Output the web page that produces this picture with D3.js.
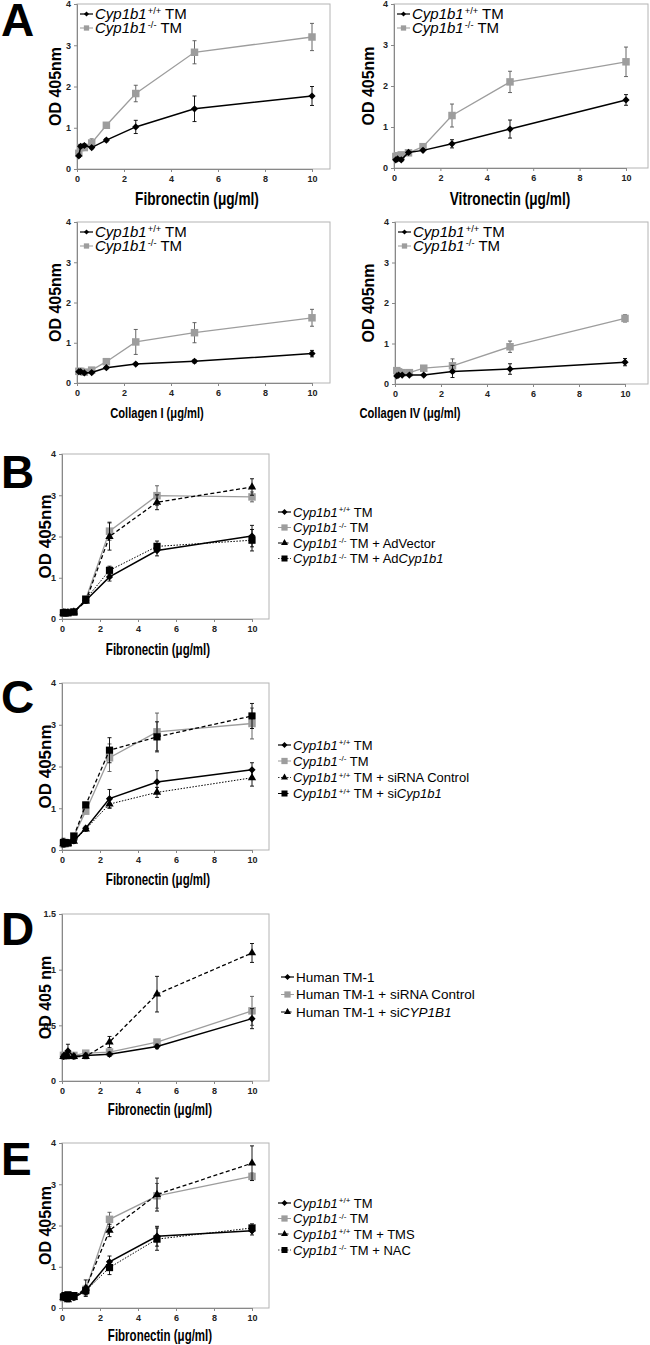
<!DOCTYPE html>
<html>
<head>
<meta charset="utf-8">
<script src="https://cdn.jsdelivr.net/npm/d3@7"></script>
<style>
  body { margin: 0; background: #fff; }
  svg { display: block; font-family: "Liberation Sans", Arial, sans-serif; }
</style>
</head>
<body>
<svg id="fig" width="650" height="1345"></svg>
<script>
// coating concentrations (ug/ml), shared by every panel
var conc = [0.078, 0.156, 0.3125, 0.625, 1.25, 2.5, 5, 10];
var xTicks = [0, 2, 4, 6, 8, 10];
var yTicks4 = [0, 1, 2, 3, 4];
var yTicksD = [0, 0.5, 1, 1.5];

// A - fibronectin
var fnWt = [0.32, 0.55, 0.57, 0.52, 0.70, 1.02, 1.46, 1.77];
var fnWtErr = [0.04, 0.04, 0.04, 0.03, 0.04, 0.16, 0.31, 0.23];
var fnKo = [0.38, 0.52, 0.52, 0.63, 1.06, 1.83, 2.83, 3.20];
var fnKoErr = [0.05, 0.04, 0.04, 0.10, 0.04, 0.20, 0.28, 0.33];
// A - vitronectin
var vnWt = [0.20, 0.22, 0.20, 0.38, 0.43, 0.59, 0.95, 1.66];
var vnWtErr = [0.03, 0.03, 0.04, 0.03, 0.03, 0.10, 0.22, 0.13];
var vnKo = [0.28, 0.30, 0.32, 0.37, 0.52, 1.28, 2.10, 2.59];
var vnKoErr = [0.03, 0.03, 0.03, 0.04, 0.04, 0.28, 0.26, 0.36];
// A - collagen I
var c1Wt = [0.28, 0.28, 0.25, 0.26, 0.38, 0.47, 0.54, 0.73];
var c1WtErr = [0.02, 0.02, 0.03, 0.03, 0.03, 0.03, 0.04, 0.08];
var c1Ko = [0.29, 0.29, 0.27, 0.32, 0.53, 1.02, 1.25, 1.62];
var c1KoErr = [0.03, 0.03, 0.03, 0.03, 0.04, 0.31, 0.25, 0.21];
// A - collagen IV
var c4Wt = [0.20, 0.22, 0.22, 0.22, 0.22, 0.31, 0.37, 0.54];
var c4WtErr = [0.02, 0.02, 0.02, 0.02, 0.02, 0.15, 0.13, 0.09];
var c4Ko = [0.33, 0.30, 0.28, 0.28, 0.39, 0.45, 0.92, 1.62];
var c4KoErr = [0.03, 0.03, 0.03, 0.03, 0.03, 0.17, 0.14, 0.09];
// B
var bWt = [0.15, 0.15, 0.15, 0.17, 0.45, 1.02, 1.66, 2.01];
var bWtErr = [0.01, 0.01, 0.01, 0.02, 0.05, 0.10, 0.13, 0.26];
var bKo = [0.15, 0.15, 0.16, 0.17, 0.48, 2.13, 2.99, 2.96];
var bKoErr = [0.01, 0.01, 0.01, 0.02, 0.05, 0.22, 0.24, 0.12];
var bVec = [0.15, 0.15, 0.15, 0.17, 0.43, 2.00, 2.83, 3.20];
var bVecErr = [0.01, 0.01, 0.01, 0.02, 0.05, 0.33, 0.18, 0.20];
var bCyp = [0.15, 0.15, 0.15, 0.17, 0.48, 1.18, 1.76, 1.91];
var bCypErr = [0.01, 0.01, 0.01, 0.02, 0.05, 0.10, 0.13, 0.26];
// C
var cWt = [0.15, 0.16, 0.17, 0.22, 0.52, 1.23, 1.63, 1.92];
var cWtErr = [0.08, 0.05, 0.04, 0.05, 0.05, 0.22, 0.27, 0.17];
var cKo = [0.15, 0.15, 0.17, 0.34, 0.93, 2.21, 2.83, 3.03];
var cKoErr = [0.05, 0.04, 0.04, 0.05, 0.06, 0.33, 0.45, 0.37];
var cCtl = [0.15, 0.15, 0.16, 0.21, 0.50, 1.10, 1.38, 1.73];
var cCtlErr = [0.05, 0.04, 0.04, 0.05, 0.05, 0.10, 0.12, 0.20];
var cSi = [0.18, 0.17, 0.17, 0.33, 1.08, 2.39, 2.71, 3.21];
var cSiErr = [0.10, 0.05, 0.04, 0.06, 0.06, 0.30, 0.36, 0.30];
// D
var dWt = [0.22, 0.23, 0.27, 0.22, 0.23, 0.24, 0.31, 0.56];
var dWtErr = [0.02, 0.02, 0.06, 0.02, 0.02, 0.02, 0.02, 0.09];
var dCtl = [0.23, 0.23, 0.23, 0.23, 0.25, 0.26, 0.35, 0.63];
var dCtlErr = [0.02, 0.02, 0.02, 0.02, 0.02, 0.02, 0.02, 0.13];
var dSi = [0.22, 0.22, 0.22, 0.22, 0.22, 0.35, 0.78, 1.15];
var dSiErr = [0.02, 0.02, 0.02, 0.02, 0.02, 0.05, 0.16, 0.085];
// E
var eWt = [0.25, 0.25, 0.30, 0.25, 0.42, 1.12, 1.74, 1.87];
var eWtErr = [0.05, 0.05, 0.05, 0.05, 0.10, 0.14, 0.24, 0.10];
var eKo = [0.25, 0.28, 0.30, 0.28, 0.45, 2.15, 2.72, 3.19];
var eKoErr = [0.05, 0.05, 0.05, 0.05, 0.10, 0.17, 0.30, 0.08];
var eTms = [0.25, 0.25, 0.20, 0.25, 0.48, 1.88, 2.75, 3.51];
var eTmsErr = [0.05, 0.05, 0.05, 0.05, 0.20, 0.15, 0.40, 0.42];
var eNac = [0.27, 0.30, 0.32, 0.30, 0.42, 0.98, 1.67, 1.94];
var eNacErr = [0.05, 0.05, 0.05, 0.05, 0.10, 0.17, 0.27, 0.10];

// legend labels (<i> italic, <sup> superscript)
var lblWt = "<i>Cyp1b1</i><sup>+/+</sup> TM";
var lblKo = "<i>Cyp1b1</i><sup>-/-</sup> TM";

// series looks
var look = {
  wt:  { color: "#000", err: "#000", shape: "diamond", size: 26, width: 1.5, dash: null },
  ko:  { color: "#9d9d9d", err: "#555", shape: "square", size: 56, width: 1.3, dash: null },
  triDash: { color: "#000", err: "#000", shape: "triangle", size: 30, width: 1.3, dash: "4,2.5" },
  triDot:  { color: "#000", err: "#000", shape: "triangle", size: 30, width: 1, dash: "1.5,1.5" },
  sqDot:   { color: "#000", err: "#000", shape: "square", size: 52, width: 1, dash: "1.5,1.5" },
  sqDash:  { color: "#000", err: "#000", shape: "square", size: 52, width: 1.3, dash: "4,2.5" }
};

var panels = [
  { left: 77, x10: 312, right: 330, top: 4, bottom: 169, yMax: 4, yTicks: yTicks4,
    yLab: "OD 405nm", yLabX: 55, yLabSize: 16, xLab: "Fibronectin (\u03bcg/ml)", xLabX: 197, xLabY: 205, xLabSize: 19,
    legIn: true, legSize: 15,
    series: [[fnKo, fnKoErr, "ko", lblKo], [fnWt, fnWtErr, "wt", lblWt]] },
  { left: 394, x10: 626, right: 648, top: 4, bottom: 168, yMax: 4, yTicks: yTicks4,
    yLab: "OD 405nm", yLabX: 368, yLabSize: 16, xLab: "Vitronectin (\u03bcg/ml)", xLabX: 510, xLabY: 205, xLabSize: 19,
    legIn: true, legSize: 15,
    series: [[vnKo, vnKoErr, "ko", lblKo], [vnWt, vnWtErr, "wt", lblWt]] },
  { left: 77, x10: 312, right: 330, top: 222, bottom: 383, yMax: 4, yTicks: yTicks4,
    yLab: "OD 405nm", yLabX: 55, yLabSize: 16, xLab: "Collagen I (\u03bcg/ml)", xLabX: 157, xLabY: 418, xLabSize: 15.5,
    legIn: true, legSize: 15,
    series: [[c1Ko, c1KoErr, "ko", lblKo], [c1Wt, c1WtErr, "wt", lblWt]] },
  { left: 395, x10: 625, right: 648, top: 222, bottom: 384, yMax: 4, yTicks: yTicks4,
    yLab: "OD 405nm", yLabX: 368, yLabSize: 16, xLab: "Collagen IV (\u03bcg/ml)", xLabX: 410, xLabY: 418, xLabSize: 15.5,
    legIn: true, legSize: 15,
    series: [[c4Ko, c4KoErr, "ko", lblKo], [c4Wt, c4WtErr, "wt", lblWt]] },
  { letter: "B", letterY: 488, left: 62, x10: 252, right: 269, top: 454, bottom: 619, yMax: 4, yTicks: yTicks4,
    yLab: "OD 405nm", yLabX: 45, yLabSize: 17, xLab: "Fibronectin (\u03bcg/ml)", xLabX: 158, xLabY: 655, xLabSize: 16,
    legX: 278, legRows: [512, 527.5, 543, 558.5], legSize: 13,
    series: [[bKo, bKoErr, "ko", lblKo], [bWt, bWtErr, "wt", lblWt],
             [bVec, bVecErr, "triDash", "<i>Cyp1b1</i><sup>-/-</sup> TM + AdVector"],
             [bCyp, bCypErr, "sqDot", "<i>Cyp1b1</i><sup>-/-</sup> TM + Ad<i>Cyp1b1</i>"]],
    legOrder: [1, 0, 2, 3] },
  { letter: "C", letterY: 713, left: 62, x10: 252, right: 269, top: 683, bottom: 850, yMax: 4, yTicks: yTicks4,
    yLab: "OD 405nm", yLabX: 45, yLabSize: 17, xLab: "Fibronectin (\u03bcg/ml)", xLabX: 158, xLabY: 885, xLabSize: 16,
    legX: 278, legRows: [745, 761, 777.5, 793.5], legSize: 13,
    series: [[cKo, cKoErr, "ko", lblKo], [cWt, cWtErr, "wt", lblWt],
             [cCtl, cCtlErr, "triDot", "<i>Cyp1b1</i><sup>+/+</sup> TM + siRNA Control"],
             [cSi, cSiErr, "sqDash", "<i>Cyp1b1</i><sup>+/+</sup> TM + si<i>Cyp1b1</i>"]],
    legOrder: [1, 0, 2, 3] },
  { letter: "D", letterY: 945, left: 62, x10: 252, right: 269, top: 914, bottom: 1081, yMax: 1.5, yTicks: yTicksD,
    yLab: "OD 405 nm", yLabX: 45, yLabSize: 16, xLab: "Fibronectin (\u03bcg/ml)", xLabX: 160, xLabY: 1115, xLabSize: 16,
    legX: 281, legRows: [977, 994.5, 1012], legSize: 13.5,
    series: [[dCtl, dCtlErr, "ko", "Human TM-1 + siRNA Control"], [dWt, dWtErr, "wt", "Human TM-1"],
             [dSi, dSiErr, "triDash", "Human TM-1 + si<i>CYP1B1</i>"]],
    legOrder: [1, 0, 2] },
  { letter: "E", letterY: 1175, left: 62, x10: 252, right: 269, top: 1143, bottom: 1308, yMax: 4, yTicks: yTicks4,
    yLab: "OD 405nm", yLabX: 45, yLabSize: 16, xLab: "Fibronectin (\u03bcg/ml)", xLabX: 160, xLabY: 1341, xLabSize: 16,
    legX: 278, legRows: [1203, 1218.5, 1234, 1250], legSize: 13,
    series: [[eKo, eKoErr, "ko", lblKo], [eWt, eWtErr, "wt", lblWt],
             [eTms, eTmsErr, "triDash", "<i>Cyp1b1</i><sup>+/+</sup> TM + TMS"],
             [eNac, eNacErr, "sqDot", "<i>Cyp1b1</i><sup>-/-</sup> TM + NAC"]],
    legOrder: [1, 0, 2, 3] }
];

var svg = d3.select("#fig");

// big panel letter A
svg.append("text").attr("x", 1).attr("y", 36)
  .style("font-size", "46px").style("font-weight", "bold").text("A");

function symbolPath(shape, size) {
  var t = shape === "triangle" ? d3.symbolTriangle : d3.symbolSquare;
  return d3.symbol().type(t).size(size)();
}

// writes "<i>..</i><sup>..</sup>" strings as tspans
function richText(sel, str, fs) {
  var parts = str.split(/(<i>.*?<\/i>|<sup>.*?<\/sup>)/).filter(function(s) { return s.length; });
  var sup = false;
  parts.forEach(function(p) {
    var ts = sel.append("tspan");
    if (p.indexOf("<i>") === 0) {
      ts.style("font-style", "italic").text(p.replace(/<\/?i>/g, ""));
      if (sup) { ts.attr("dy", fs * 0.35); sup = false; }
    } else if (p.indexOf("<sup>") === 0) {
      ts.attr("dy", -fs * 0.35).attr("dx", 1).style("font-size", (fs * 0.62) + "px").text(p.replace(/<\/?sup>/g, ""));
      sup = true;
    } else {
      ts.text(p);
      if (sup) { ts.attr("dy", fs * 0.35); sup = false; }
    }
  });
}

function drawMarker(g, cx, cy, lk, scale) {
  var m = g.append("path").attr("d", symbolPath(lk.shape, lk.size * (scale || 1)))
    .attr("fill", lk.color).attr("stroke", "none");
  var rot = lk.shape === "diamond" ? " rotate(45)" : "";
  m.attr("transform", "translate(" + cx + "," + cy + ")" + rot);
}

panels.forEach(function(p) {
  var x = d3.scaleLinear().domain([0, 10]).range([p.left, p.x10]);
  var y = d3.scaleLinear().domain([0, p.yMax]).range([p.bottom, p.top]);
  var g = svg.append("g");

  if (p.letter) {
    g.append("text").attr("x", 1).attr("y", p.letterY)
      .style("font-size", "46px").style("font-weight", "bold").text(p.letter);
  }

  // plot frame
  g.append("rect").attr("x", p.left).attr("y", p.top)
    .attr("width", p.right - p.left).attr("height", p.bottom - p.top)
    .attr("fill", "none").attr("stroke", "#b4b4b4").attr("stroke-width", 1);

  var yAxis = g.append("g").attr("transform", "translate(" + p.left + ",0)")
    .call(d3.axisLeft(y).tickValues(p.yTicks).tickSize(3).tickPadding(3).tickFormat(d3.format("")));
  var xAxis = g.append("g").attr("transform", "translate(0," + p.bottom + ")")
    .call(d3.axisBottom(x).tickValues(xTicks).tickSize(3).tickPadding(4).tickFormat(d3.format("")));
  [yAxis, xAxis].forEach(function(a) {
    a.select(".domain").attr("stroke", "#888");
    a.selectAll(".tick line").attr("stroke", "#888");
    a.selectAll(".tick text").attr("fill", "#222")
      .style("font-size", "9px").style("font-weight", "bold")
      .style("font-family", "'Liberation Sans', Arial, sans-serif");
  });

  // axis titles
  g.append("text").attr("transform", "translate(" + p.yLabX + "," + ((p.top + p.bottom) / 2) + ") rotate(-90)")
    .attr("text-anchor", "middle").attr("dy", "0.35em")
    .style("font-size", p.yLabSize + "px").style("font-weight", "bold").text(p.yLab);
  // condensed bold title (squeezed horizontally, no narrow font installed)
  g.append("text").attr("transform", "translate(" + p.xLabX + "," + p.xLabY + ") scale(0.72,1)")
    .attr("text-anchor", "middle")
    .style("font-size", p.xLabSize + "px").style("font-weight", "bold").text(p.xLab);

  // series
  p.series.forEach(function(s) {
    var vals = s[0], errs = s[1], lk = look[s[2]];
    var pts = conc.map(function(c, i) { return { x: c, y: vals[i], e: errs[i] }; });
    var sg = g.append("g");

    sg.selectAll("line.err").data(pts).enter().append("line")
      .attr("x1", function(d) { return x(d.x); }).attr("x2", function(d) { return x(d.x); })
      .attr("y1", function(d) { return y(d.y - d.e); }).attr("y2", function(d) { return y(d.y + d.e); })
      .attr("stroke", lk.err).attr("stroke-width", 0.9);
    [-1, 1].forEach(function(sgn) {
      sg.selectAll(null).data(pts).enter().append("line")
        .attr("x1", function(d) { return x(d.x) - 2; }).attr("x2", function(d) { return x(d.x) + 2; })
        .attr("y1", function(d) { return y(d.y + sgn * d.e); }).attr("y2", function(d) { return y(d.y + sgn * d.e); })
        .attr("stroke", lk.err).attr("stroke-width", 0.9);
    });

    var line = d3.line().x(function(d) { return x(d.x); }).y(function(d) { return y(d.y); });
    sg.append("path").datum(pts).attr("d", line).attr("fill", "none")
      .attr("stroke", lk.color).attr("stroke-width", lk.width)
      .attr("stroke-dasharray", lk.dash);

    pts.forEach(function(d) { drawMarker(sg, x(d.x), y(d.y), lk); });
  });

  // legend
  var order = p.legOrder || [1, 0];
  order.forEach(function(si, k) {
    var s = p.series[si], lk = look[s[2]];
    var lx, ly;
    if (p.legIn) { lx = p.left + 3; ly = p.top + 10 + k * 14; }
    else { lx = p.legX; ly = p.legRows[k]; }
    var lg = g.append("g");
    lg.append("line").attr("x1", lx).attr("x2", lx + 13).attr("y1", ly).attr("y2", ly)
      .attr("stroke", lk.color).attr("stroke-width", lk.width * 0.8).attr("stroke-dasharray", lk.dash);
    drawMarker(lg, lx + 6.5, ly, lk, p.legIn ? 0.5 : 0.7);
    var t = lg.append("text").attr("x", lx + 15).attr("y", ly).attr("dy", "0.36em")
      .style("font-size", p.legSize + "px");
    richText(t, s[3], p.legSize);
  });
});
</script>
</body>
</html>
